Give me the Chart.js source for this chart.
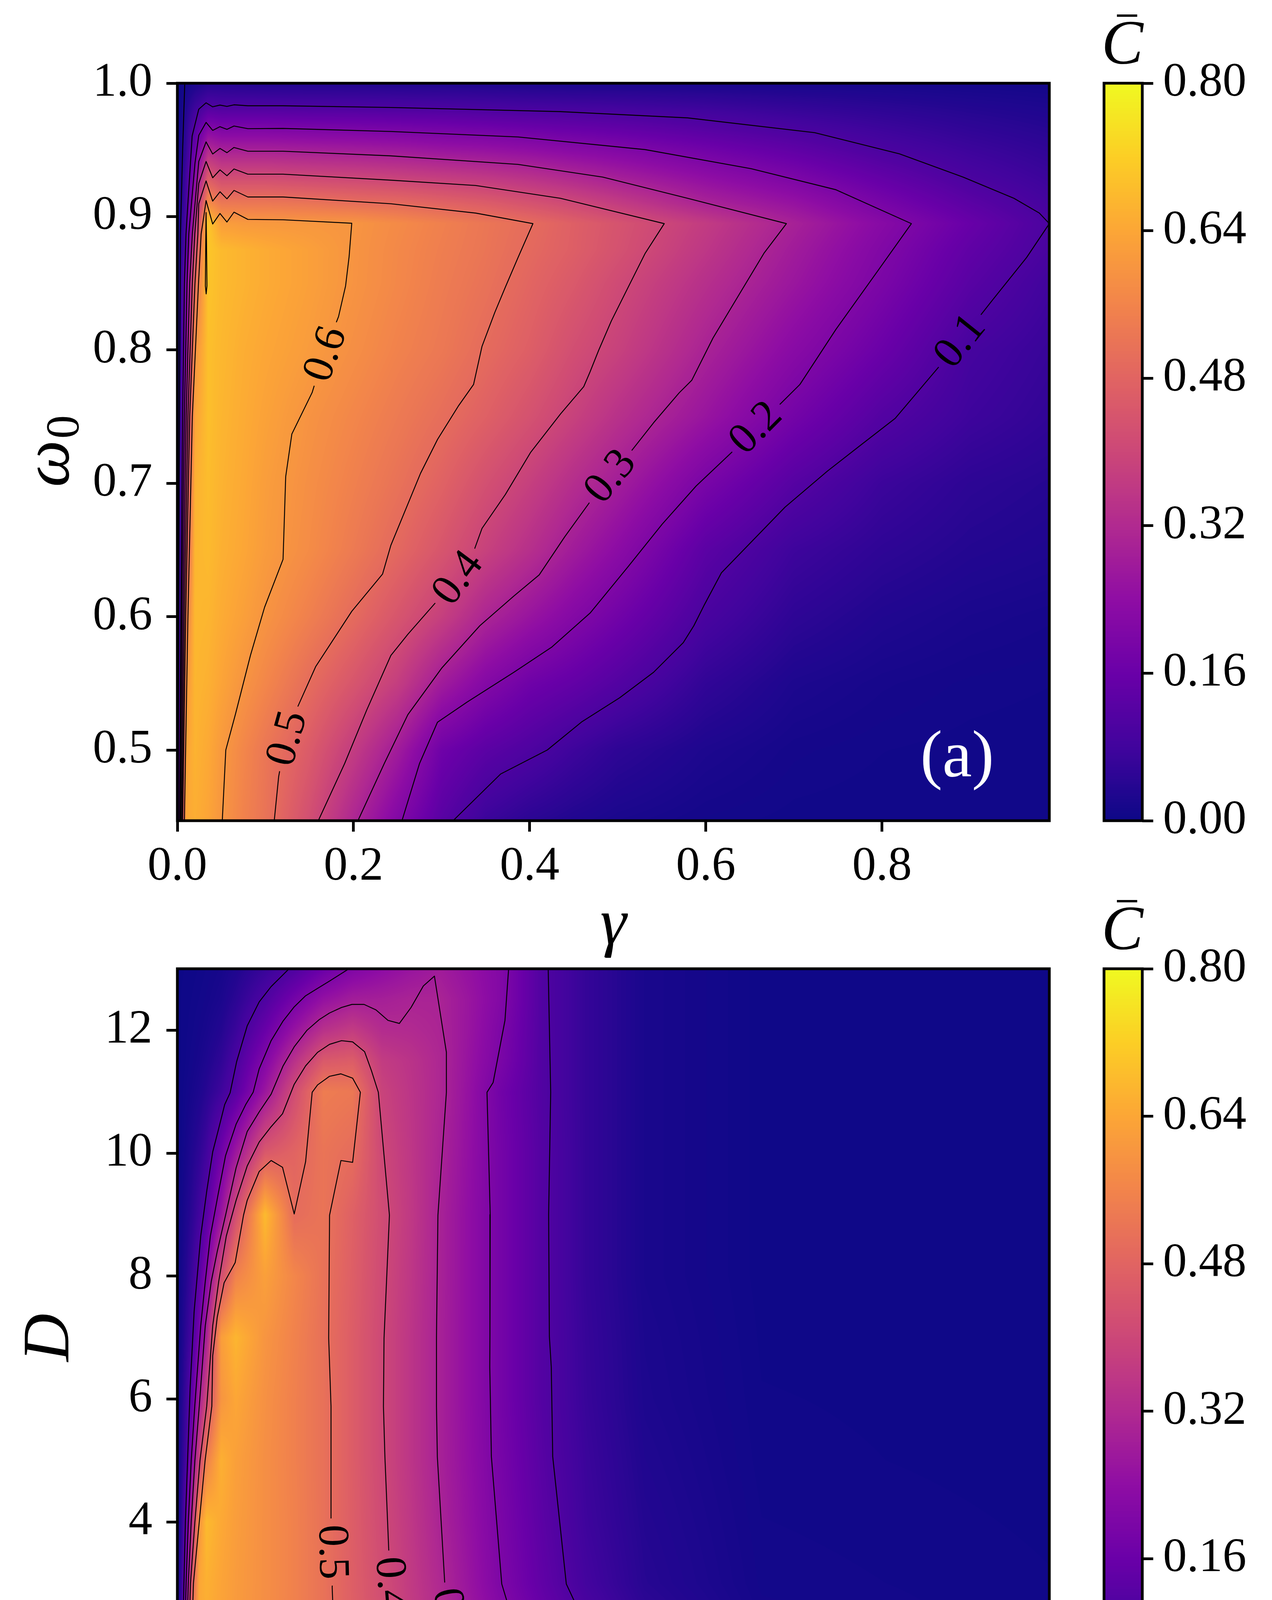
<!DOCTYPE html>
<html>
<head>
<meta charset="utf-8">
<title>Mean coherence maps</title>
<script src="https://cdn.jsdelivr.net/npm/chart.js@4.4.1/dist/chart.umd.min.js"></script>
<style>
  html, body { margin:0; padding:0; background:#ffffff; overflow:hidden; }
  #fig { position:relative; width:3256px; height:4781px; background:#ffffff; }
  #fig canvas { position:absolute; }
</style>
</head>
<body>
<div id="fig">
  <canvas id="panelA" width="2760" height="2470" style="left:0px;top:0px;width:2760px;height:2470px"></canvas>
  <canvas id="barA" width="556" height="2300" style="left:2700px;top:0px;width:556px;height:2300px"></canvas>
  <canvas id="panelB" width="2760" height="2481" style="left:0px;top:2300px;width:2760px;height:2481px"></canvas>
  <canvas id="barB" width="556" height="2481" style="left:2700px;top:2300px;width:556px;height:2481px"></canvas>
</div>
<script>
// ---------------- DATA ----------------
// Panel (a): grid columns gamma, rows omega0, values C-bar
const gammaA = [0, 0.004, 0.01, 0.02, 0.035, 0.05, 0.075, 0.1, 0.15, 0.2, 0.25, 0.3, 0.35, 0.4, 0.45, 0.5, 0.6, 0.7, 0.8, 0.9, 0.99];
const omegaA = [0.447, 0.5, 0.55, 0.6, 0.65, 0.7, 0.75, 0.8, 0.85, 0.875, 0.895, 0.91, 0.93, 0.95, 0.965, 0.983, 1.0];
const heatA = [
  [0, .30, .64, .655, .635, .602, .555, .518, .42, .31, .21, .125, .07, .045, .03, .02, .01, .006, .005, .005, .005],
  [0, .25, .63, .665, .645, .61, .565, .525, .455, .37, .28, .17, .13, .105, .075, .05, .025, .012, .008, .006, .005],
  [0, .15, .60, .67, .66, .635, .598, .565, .50, .44, .375, .28, .215, .17, .145, .115, .055, .025, .015, .01, .008],
  [0, .10, .54, .675, .67, .65, .625, .597, .548, .497, .44, .38, .307, .26, .215, .175, .095, .05, .03, .02, .015],
  [0, .08, .45, .67, .68, .66, .64, .615, .578, .535, .49, .44, .385, .335, .28, .232, .13, .075, .05, .035, .028],
  [0, .075, .38, .66, .685, .665, .645, .62, .585, .55, .515, .475, .425, .38, .33, .285, .19, .12, .072, .048, .038],
  [0, .07, .30, .63, .69, .67, .65, .63, .595, .565, .535, .505, .47, .43, .385, .34, .26, .18, .115, .075, .055],
  [0, .06, .22, .59, .69, .675, .655, .64, .615, .585, .555, .53, .498, .465, .42, .385, .30, .225, .16, .09, .065],
  [0, .05, .19, .50, .70, .68, .665, .65, .625, .597, .568, .54, .515, .483, .45, .41, .335, .265, .195, .125, .08],
  [0, .04, .12, .42, .705, .68, .665, .65, .625, .598, .57, .545, .522, .493, .465, .43, .355, .28, .208, .14, .095],
  [0, .035, .10, .33, .705, .62, .61, .608, .605, .60, .575, .55, .525, .50, .467, .435, .368, .295, .222, .155, .10],
  [0, .03, .09, .28, .58, .53, .528, .528, .519, .506, .496, .477, .458, .432, .405, .371, .301, .254, .188, .13, .087],
  [0, .025, .08, .22, .45, .41, .41, .41, .40, .394, .384, .371, .357, .338, .313, .287, .238, .195, .144, .097, .07],
  [0, .02, .06, .16, .32, .295, .294, .294, .288, .282, .274, .261, .253, .24, .224, .209, .174, .14, .10, .073, .053],
  [0, .015, .05, .12, .22, .205, .206, .206, .20, .198, .192, .185, .178, .168, .158, .148, .124, .099, .075, .054, .04],
  [0, .01, .03, .07, .105, .10, .10, .10, .098, .097, .095, .093, .089, .085, .082, .078, .069, .056, .044, .033, .025],
  [0, .005, .01, .02, .035, .035, .033, .03, .03, .03, .028, .027, .025, .022, .02, .02, .018, .016, .015, .012, .01]
];
// Panel (a) contour lines [gamma, omega0]
const contA01 = [[.0025,.447],[.004,.6],[.006,.75],[.008,.85],[.0098,.887],[.0168,.9605],[.0243,.9805],[.0326,.9853],[.0401,.9823],[.0484,.9836],[.0563,.9826],[.0643,.9838],[.08,.9831],[.12,.9831],[.2424,.9818],[.4349,.9787],[.5793,.974],[.7236,.9629],[.8199,.947],[.8921,.9296],[.9498,.9137],[.9787,.9026],[.99,.8947],[.9642,.8693],[.9257,.8376],[.9113,.8255],[.8872,.8074],[.868,.79],[.815,.7487],[.7717,.7265],[.738,.7091],[.6899,.6821],[.6177,.6329],[.5985,.6091],[.5864,.5932],[.5744,.5805],[.5407,.5583],[.5022,.5392],[.4589,.521],[.42,.5],[.367,.482],[.313,.447]];
const contA01b = [[.0012,.447],[.002,.7],[.0035,.887],[.006,.95],[.0084,1.0]];
const contA02 = [[.003,.447],[.005,.6],[.008,.75],[.011,.85],[.013,.887],[.02,.94],[.0243,.9609],[.0326,.9706],[.0401,.9646],[.0484,.9674],[.0563,.9654],[.0643,.9679],[.08,.9659],[.12,.9661],[.2424,.9638],[.3868,.9597],[.5312,.9502],[.6515,.9359],[.7478,.9201],[.8334,.8947],[.7958,.8598],[.7477,.8154],[.7068,.7741],[.6803,.7567],[.6553,.7424],[.6346,.7265],[.5889,.6979],[.5504,.6693],[.5119,.6376],[.4686,.6027],[.4253,.5773],[.3819,.5582],[.329,.536],[.2953,.5208],[.275,.49],[.255,.447]];
const contA03 = [[.004,.447],[.0065,.6],[.01,.75],[.014,.85],[.017,.887],[.0243,.9413],[.0326,.956],[.0401,.9469],[.0484,.9511],[.0563,.9479],[.0643,.9518],[.08,.949],[.12,.949],[.2424,.9455],[.3868,.9391],[.483,.9296],[.5793,.9137],[.6915,.8947],[.666,.8725],[.6371,.8408],[.6082,.809],[.5841,.7773],[.5697,.7678],[.5408,.7455],[.5143,.7233],[.4902,.7059],[.471,.6884],[.4397,.6598],[.4108,.6313],[.3819,.6154],[.3434,.5932],[.3001,.5614],[.2617,.5265],[.235,.49],[.205,.447]];
const contA04 = [[.005,.447],[.008,.6],[.012,.75],[.017,.85],[.0198,.887],[.0243,.9248],[.0326,.9413],[.0401,.9291],[.0484,.935],[.0563,.9306],[.0643,.9357],[.08,.9318],[.12,.9318],[.2424,.9273],[.3387,.9233],[.4349,.9137],[.5528,.8947],[.5312,.8725],[.5119,.8471],[.4927,.8217],[.4782,.7995],[.4686,.7836],[.4614,.7725],[.4349,.7519],[.4012,.7233],[.3724,.6916],[.3459,.6662],[.3363,.6487],[.317,.6297],[.2954,.6122],[.2617,.5868],[.2424,.5709],[.215,.53],[.19,.49],[.16,.447]];
const contA05 = [[.006,.447],[.0095,.6],[.014,.75],[.02,.85],[.0233,.887],[.0243,.9096],[.0326,.9267],[.0401,.9116],[.0484,.9186],[.0563,.9133],[.0643,.9196],[.08,.9147],[.12,.9147],[.2424,.9096],[.3387,.9026],[.4037,.8947],[.3868,.8693],[.3724,.8471],[.3604,.8281],[.3459,.8027],[.3363,.7741],[.3194,.7583],[.2954,.7329],[.2761,.7075],[.2424,.6535],[.233,.632],[.198,.604],[.157,.5625],[.135,.53],[.123,.509],[.115,.48],[.11,.447]];
const contA06 = [[.008,.447],[.012,.6],[.017,.75],[.024,.85],[.027,.887],[.03,.9],[.0326,.912],[.0401,.8944],[.0484,.9023],[.0563,.8959],[.0643,.9033],[.08,.8979],[.12,.8976],[.198,.895],[.195,.87],[.191,.848],[.183,.825],[.1665,.7973],[.153,.768],[.13,.737],[.123,.705],[.12,.643],[.099,.607],[.083,.571],[.066,.527],[.055,.5],[.051,.447]];
const contA07 = [[.0318,.848],[.0322,.88],[.0326,.903],[.0331,.88],[.0336,.848],[.0327,.842],[.0318,.848]];
const labelTextA = ['0.6', '0.5', '0.4', '0.3', '0.2', '0.1'];
const labelPosA = [[.1665,.7973],[.123,.509],[.317,.6297],[.4902,.7059],[.6553,.7424],[.8872,.8074]];
const xTicksA = [0, 0.2, 0.4, 0.6, 0.8];
const yTicksA = [0.5, 0.6, 0.7, 0.8, 0.9, 1.0];

// Panel (b): grid columns gamma, rows D
const gammaB = [0, 0.003, 0.006, 0.01, 0.015, 0.02, 0.03, 0.04, 0.06, 0.08, 0.1, 0.12, 0.14, 0.16, 0.18, 0.2, 0.22, 0.25, 0.28, 0.32, 0.4, 0.597];
const dB = [1, 2, 3, 4, 5, 6, 7, 8, 9, 10, 11, 11.5, 12, 12.5, 13];
const heatB = [
  [0, .12, .38, .60, .64, .64, .63, .615, .585, .555, .52, .475, .43, .385, .345, .30, .26, .20, .15, .085, .02, .005],
  [0, .09, .30, .57, .65, .65, .63, .612, .582, .552, .515, .47, .425, .375, .33, .28, .235, .17, .115, .06, .015, .005],
  [0, .07, .20, .45, .64, .66, .635, .615, .585, .553, .515, .465, .418, .365, .315, .26, .205, .14, .085, .04, .01, .005],
  [0, .05, .14, .33, .60, .68, .645, .62, .585, .553, .513, .462, .41, .357, .302, .25, .197, .13, .075, .035, .008, .004],
  [0, .04, .09, .22, .39, .55, .66, .625, .585, .55, .512, .46, .405, .35, .295, .243, .19, .122, .07, .03, .006, .003],
  [0, .03, .07, .14, .29, .40, .60, .64, .59, .55, .512, .46, .405, .35, .295, .24, .185, .115, .065, .025, .005, .003],
  [0, .02, .05, .09, .19, .30, .62, .67, .60, .555, .51, .46, .405, .35, .295, .24, .185, .115, .063, .023, .004, .002],
  [0, .015, .035, .07, .125, .21, .42, .555, .625, .565, .515, .465, .41, .355, .297, .24, .185, .115, .06, .02, .003, .002],
  [0, .01, .025, .045, .08, .125, .26, .42, .68, .50, .52, .47, .415, .36, .298, .24, .185, .115, .06, .02, .003, .002],
  [0, .005, .015, .03, .05, .08, .17, .27, .45, .48, .52, .50, .405, .355, .303, .245, .185, .115, .06, .02, .003, .002],
  [0, .003, .008, .015, .025, .04, .075, .125, .265, .415, .54, .53, .39, .35, .31, .25, .18, .11, .06, .02, .003, .002],
  [0, .002, .005, .01, .017, .027, .052, .097, .21, .34, .45, .46, .37, .345, .31, .255, .198, .11, .06, .02, .003, .002],
  [0, .002, .004, .007, .012, .018, .035, .068, .155, .255, .34, .37, .325, .32, .305, .26, .205, .11, .06, .02, .003, .002],
  [0, .002, .003, .005, .008, .012, .022, .045, .105, .18, .25, .285, .29, .302, .302, .262, .215, .11, .06, .02, .003, .002],
  [0, .001, .002, .003, .005, .008, .015, .028, .065, .105, .16, .205, .235, .26, .28, .25, .215, .11, .06, .02, .003, .002]
];
// Panel (b) contour lines [gamma, D]
const contB01L = [[.0028,1],[.0045,3],[.0055,4],[.007,5],[.0088,6.21],[.0115,7.43],[.016,8.65],[.0201,9.38],[.0242,10.02],[.0283,10.4],[.0324,10.79],[.0361,10.98],[.0406,11.49],[.0478,12.07],[.056,12.46],[.0642,12.71],[.0765,13]];
const contB01R = [[.2539,13],[.2556,10.99],[.2542,9],[.2547,7.02],[.256,6.52],[.257,5.06],[.2663,2.99],[.2826,2.16],[.2922,1.75],[.3032,1.29],[.309,1]];
const contB02L = [[.004,1],[.006,3],[.0075,4],[.0095,5],[.0119,5.88],[.016,7.19],[.0191,7.91],[.0226,8.65],[.0279,9.33],[.033,9.96],[.0402,10.47],[.0468,10.79],[.0519,10.99],[.056,11.37],[.0642,11.83],[.0724,12.15],[.08,12.38],[.0878,12.56],[.096,12.68],[.1042,12.8],[.1175,13]];
const contB02R = [[.2268,13],[.2243,12.16],[.2162,11.15],[.212,10.99],[.2142,9],[.214,7.02],[.2139,6.52],[.215,5.06],[.2221,2.99],[.2292,2.43],[.2365,1.94],[.2426,1.44],[.2499,1]];
const contB03 = [[.0052,1],[.0075,3],[.0095,4],[.012,5],[.015,5.88],[.0191,7.19],[.0232,7.91],[.0273,8.4],[.033,8.99],[.0402,9.76],[.0478,10.35],[.056,10.67],[.0642,10.96],[.0724,11.42],[.08,11.73],[.0888,12],[.097,12.17],[.1042,12.28],[.1124,12.37],[.1196,12.42],[.1278,12.42],[.136,12.33],[.1442,12.16],[.152,12.11],[.16,12.37],[.1684,12.72],[.176,12.88],[.1842,11.64],[.1842,10.99],[.1784,8.99],[.1774,6.99],[.1774,5.88],[.178,5.06],[.1831,2.99],[.1882,2.48],[.1914,1.94],[.1996,1]];
const contB04 = [[.0065,1],[.009,3],[.012,4],[.0155,5],[.0201,5.88],[.0242,7.19],[.0283,7.91],[.0335,8.65],[.0402,9.23],[.0478,9.79],[.056,10.18],[.0642,10.43],[.072,10.64],[.08,11.12],[.0878,11.42],[.096,11.64],[.1042,11.77],[.1124,11.83],[.12,11.81],[.1282,11.65],[.1329,11.34],[.1376,10.99],[.1452,8.99],[.1415,6.99],[.1411,5.88],[.1421,5.06],[.1448,3.5],[.1472,2.99],[.1483,2.43],[.1544,1]];
const contB05 = [[.0085,1],[.011,3],[.015,4],[.019,5],[.0236,5.88],[.0242,6.7],[.0273,7.33],[.032,7.89],[.0396,8.22],[.0453,8.99],[.0478,9.23],[.056,9.7],[.0642,9.88],[.072,9.77],[.08,9.01],[.0878,9.86],[.0923,10.99],[.096,11.11],[.1042,11.25],[.112,11.29],[.12,11.22],[.1253,10.99],[.12,9.85],[.112,9.88],[.1042,8.99],[.1036,6.99],[.1052,5.88],[.1052,4.01],[.1072,3.51],[.106,2.94],[.1089,1]];
const labelTextB = ['0.5', '0.4', '0.3', '0.2', '0.1'];
const labelPosB = [[.1072,3.51],[.1472,2.99],[.1882,2.48],[.2365,1.94],[.2922,1.75]];
const xTicksB = [0, 0.2, 0.4];
const yTicksB = [2, 4, 6, 8, 10, 12];

// Colour bar
const cbarTicks = [0, 0.16, 0.32, 0.48, 0.64, 0.80];
const cMin = 0, cMax = 0.8;

// ---------------- STYLE / RENDERING ----------------
const FONT = '"Liberation Serif", "DejaVu Serif", serif';
const PLASMA = ['#0d0887','#41049d','#6a00a8','#8f0da4','#b12a90','#cc4778','#e16462','#f2844b','#fca636','#fcce25','#f0f921'];
const LUT = (function () {
  const stops = PLASMA.map(h => [parseInt(h.slice(1,3),16), parseInt(h.slice(3,5),16), parseInt(h.slice(5,7),16)]);
  const out = [];
  for (let i = 0; i < 256; i++) {
    const t = i / 255 * (stops.length - 1);
    const k = Math.min(stops.length - 2, Math.floor(t));
    const f = t - k;
    out.push([0,1,2].map(c => Math.round(stops[k][c] * (1 - f) + stops[k+1][c] * f)));
  }
  return out;
})();
function colorIndex(v) {
  let t = (v - cMin) / (cMax - cMin);
  if (!(t >= 0)) t = 0; if (t > 1) t = 1;
  return Math.round(t * 255);
}
function locate(arr, v) {
  const n = arr.length;
  if (v <= arr[0]) return [0, 0];
  if (v >= arr[n-1]) return [n-2, 1];
  let k = 0;
  while (k < n - 2 && arr[k+1] <= v) k++;
  return [k, (v - arr[k]) / (arr[k+1] - arr[k])];
}

function heatPlugin(xs, ys, Z) {
  return {
    id: 'heat',
    beforeDatasetsDraw(chart) {
      const a = chart.chartArea;
      const L = Math.round(a.left), T = Math.round(a.top);
      const W = Math.round(a.right) - L, H = Math.round(a.bottom) - T;
      if (!chart.$heat) {
        const sx = chart.scales.x, sy = chart.scales.y;
        const off = document.createElement('canvas');
        off.width = W; off.height = H;
        const octx = off.getContext('2d');
        const img = octx.createImageData(W, H);
        const ci = new Int32Array(W), cf = new Float64Array(W);
        for (let i = 0; i < W; i++) { const r = locate(xs, sx.getValueForPixel(L + i + 0.5)); ci[i] = r[0]; cf[i] = r[1]; }
        const d = img.data;
        for (let j = 0; j < H; j++) {
          const r = locate(ys, sy.getValueForPixel(T + j + 0.5));
          const r0 = Z[r[0]], r1 = Z[r[0] + 1], fy = r[1];
          for (let i = 0; i < W; i++) {
            const k = ci[i], fx = cf[i];
            const v0 = (r0[k] || 0) * (1 - fx) + (r0[k+1] || 0) * fx;
            const v1 = (r1[k] || 0) * (1 - fx) + (r1[k+1] || 0) * fx;
            const c = LUT[colorIndex(v0 * (1 - fy) + v1 * fy)];
            const p = (j * W + i) * 4;
            d[p] = c[0]; d[p+1] = c[1]; d[p+2] = c[2]; d[p+3] = 255;
          }
        }
        octx.putImageData(img, 0, 0);
        chart.$heat = off; chart.$heatL = L; chart.$heatT = T;
      }
      chart.ctx.drawImage(chart.$heat, chart.$heatL, chart.$heatT);
    }
  };
}

function labelPlugin(texts, positions, paths) {
  return {
    id: 'clabels',
    afterDatasetsDraw(chart) {
      const ctx = chart.ctx, sx = chart.scales.x, sy = chart.scales.y;
      texts.forEach((txt, n) => {
        const pts = paths[n].map(p => [sx.getPixelForValue(p[0]), sy.getPixelForValue(p[1])]);
        const px = sx.getPixelForValue(positions[n][0]), py = sy.getPixelForValue(positions[n][1]);
        const cum = [0];
        for (let i = 1; i < pts.length; i++) cum.push(cum[i-1] + Math.hypot(pts[i][0]-pts[i-1][0], pts[i][1]-pts[i-1][1]));
        let best = Infinity, bs = 0, bp = [px, py];
        for (let i = 0; i < pts.length - 1; i++) {
          const a = pts[i], b = pts[i+1], dx = b[0]-a[0], dy = b[1]-a[1], L2 = dx*dx + dy*dy;
          let t = L2 ? ((px-a[0])*dx + (py-a[1])*dy) / L2 : 0;
          t = Math.max(0, Math.min(1, t));
          const qx = a[0] + t*dx, qy = a[1] + t*dy, dd = (qx-px)*(qx-px) + (qy-py)*(qy-py);
          if (dd < best) { best = dd; bs = cum[i] + t*Math.sqrt(L2); bp = [qx, qy]; }
        }
        const at = s => {
          s = Math.max(0, Math.min(cum[cum.length-1], s));
          let i = 0; while (i < cum.length - 2 && cum[i+1] < s) i++;
          const seg = cum[i+1] - cum[i], f = seg ? (s - cum[i]) / seg : 0;
          return [pts[i][0] + f*(pts[i+1][0]-pts[i][0]), pts[i][1] + f*(pts[i+1][1]-pts[i][1])];
        };
        const p1 = at(bs - 70), p2 = at(bs + 70);
        let ang = Math.atan2(p2[1]-p1[1], p2[0]-p1[0]);
        if (ang > Math.PI/2) ang -= Math.PI;
        if (ang < -Math.PI/2) ang += Math.PI;
        ctx.save();
        ctx.font = '112px ' + FONT;
        const w = ctx.measureText(txt).width;
        const hw = w/2 + 16, hh = 46, c = Math.cos(ang), s = Math.sin(ang);
        ctx.beginPath();
        [[-hw,-hh],[hw,-hh],[hw,hh],[-hw,hh]].forEach((q, i) => {
          const X = bp[0] + q[0]*c - q[1]*s, Y = bp[1] + q[0]*s + q[1]*c;
          if (i === 0) ctx.moveTo(X, Y); else ctx.lineTo(X, Y);
        });
        ctx.closePath();
        ctx.clip();
        if (chart.$heat) ctx.drawImage(chart.$heat, chart.$heatL, chart.$heatT);
        ctx.restore();
        ctx.save();
        ctx.translate(bp[0], bp[1]);
        ctx.rotate(ang);
        ctx.font = '112px ' + FONT;
        ctx.fillStyle = '#000';
        ctx.textAlign = 'center';
        ctx.textBaseline = 'alphabetic';
        ctx.fillText(txt, 0, 36);
        ctx.restore();
      });
    }
  };
}

function framePlugin(opts) {
  return {
    id: 'frame',
    afterDraw(chart) {
      const ctx = chart.ctx, a = chart.chartArea;
      ctx.save();
      ctx.strokeStyle = '#000'; ctx.lineWidth = 7;
      ctx.strokeRect(a.left, a.top, a.right - a.left, a.bottom - a.top);
      ctx.fillStyle = '#000';
      // x title
      ctx.font = 'italic 170px ' + FONT;
      ctx.textAlign = 'center'; ctx.textBaseline = 'alphabetic';
      ctx.fillText('\u03B3', (a.left + a.right) / 2, a.bottom + 315);
      // y title (rotated)
      ctx.save();
      ctx.translate(175, (a.top + a.bottom) / 2);
      ctx.rotate(-Math.PI / 2);
      ctx.textAlign = 'left';
      if (opts.sub) {
        ctx.font = 'italic 170px ' + FONT;
        const w1 = ctx.measureText(opts.ytitle).width;
        ctx.font = '120px ' + FONT;
        const w2 = ctx.measureText(opts.sub).width;
        ctx.font = 'italic 170px ' + FONT;
        ctx.fillText(opts.ytitle, -(w1 + w2) / 2, 0);
        ctx.font = '120px ' + FONT;
        ctx.fillText(opts.sub, -(w1 + w2) / 2 + w1 + 4, 26);
      } else {
        ctx.font = 'italic 170px ' + FONT;
        ctx.textAlign = 'center';
        ctx.fillText(opts.ytitle, 0, 0);
      }
      ctx.restore();
      // panel letter
      ctx.fillStyle = '#ffffff';
      ctx.font = '170px ' + FONT;
      ctx.textAlign = 'center';
      ctx.fillText(opts.letter, a.right - 236, a.bottom - 114);
      ctx.restore();
    }
  };
}

function tickScale(ticks, fmt, extra) {
  return Object.assign({
    type: 'linear',
    afterBuildTicks: s => { s.ticks = ticks.map(v => ({ value: v })); },
    grid: { drawOnChartArea: false, drawTicks: true, tickLength: 28, tickWidth: 7, tickColor: '#000', color: '#000' },
    border: { display: false },
    ticks: { font: { family: FONT, size: 122 }, color: '#000', autoSkip: false, maxRotation: 0, minRotation: 0,
             callback: v => fmt(v) }
  }, extra);
}

function mainChart(id, g) {
  const canvas = document.getElementById(id);
  const datasets = g.contours.map(c => ({
    data: c.map(p => ({ x: p[0], y: p[1] })),
    showLine: true, borderColor: '#000', borderWidth: 2.4, borderJoinStyle: 'round',
    pointRadius: 0, pointHoverRadius: 0, fill: false, tension: 0
  }));
  const xs = tickScale(g.xticks, v => v.toFixed(1), { min: g.xmin, max: g.xmax, position: 'bottom',
    afterFit: s => { s.height = g.h - g.B; } });
  xs.ticks.padding = 18;
  const ys = tickScale(g.yticks, g.yfmt, { min: g.ymin, max: g.ymax, position: 'left',
    afterFit: s => { s.width = g.L; } });
  ys.ticks.padding = 36;
  return new Chart(canvas, {
    type: 'scatter',
    data: { datasets },
    options: {
      responsive: false, animation: false, devicePixelRatio: 1, events: [],
      layout: { padding: { left: 0, top: g.T, right: g.w - g.R, bottom: 0 } },
      plugins: { legend: { display: false }, tooltip: { enabled: false }, title: { display: false } },
      scales: { x: xs, y: ys }
    },
    plugins: [heatPlugin(g.gx, g.gy, g.z), labelPlugin(g.ltext, g.lpos, g.lpath), framePlugin(g)]
  });
}

function colorBar(id, g) {
  const canvas = document.getElementById(id);
  const ys = tickScale(cbarTicks, v => v.toFixed(2), { min: cMin, max: cMax, position: 'right',
    afterFit: s => { s.width = g.w - g.R; } });
  ys.ticks.padding = 25;
  return new Chart(canvas, {
    type: 'scatter',
    data: { datasets: [] },
    options: {
      responsive: false, animation: false, devicePixelRatio: 1, events: [],
      layout: { padding: { left: g.L, top: g.T, right: 0, bottom: g.h - g.B } },
      plugins: { legend: { display: false }, tooltip: { enabled: false } },
      scales: { x: { type: 'linear', display: false, min: 0, max: 1 }, y: ys }
    },
    plugins: [{
      id: 'cbar',
      beforeDatasetsDraw(chart) {
        const ctx = chart.ctx, a = chart.chartArea, sy = chart.scales.y;
        for (let py = Math.floor(a.top); py < Math.ceil(a.bottom); py++) {
          const c = LUT[colorIndex(sy.getValueForPixel(py + 0.5))];
          ctx.fillStyle = 'rgb(' + c[0] + ',' + c[1] + ',' + c[2] + ')';
          ctx.fillRect(a.left, py, a.right - a.left, 1);
        }
      },
      afterDraw(chart) {
        const ctx = chart.ctx, a = chart.chartArea;
        ctx.save();
        ctx.strokeStyle = '#000'; ctx.lineWidth = 7;
        ctx.strokeRect(a.left, a.top, a.right - a.left, a.bottom - a.top);
        ctx.fillStyle = '#000';
        ctx.font = 'italic 160px ' + FONT;
        ctx.textAlign = 'center'; ctx.textBaseline = 'alphabetic';
        const cx = (a.left + a.right) / 2;
        ctx.fillText('C', cx - 2, a.top - 50);
        ctx.fillRect(cx - 16, a.top - 176, 52, 6);
        ctx.restore();
      }
    }]
  });
}

mainChart('panelA', {
  w: 2760, h: 2470, L: 454, T: 213, R: 2686, B: 2101,
  xmin: 0, xmax: 0.99, ymin: 0.447, ymax: 1.0,
  xticks: xTicksA, yticks: yTicksA, yfmt: v => v.toFixed(1),
  gx: gammaA, gy: omegaA, z: heatA,
  contours: [contA01, contA01b, contA02, contA03, contA04, contA05, contA06, contA07],
  ltext: labelTextA, lpos: labelPosA, lpath: [contA06, contA05, contA04, contA03, contA02, contA01],
  ytitle: '\u03C9', sub: '0', letter: '(a)'
});
colorBar('barA', { w: 556, h: 2300, L: 126, R: 224, T: 213, B: 2101 });

mainChart('panelB', {
  w: 2760, h: 2481, L: 454, T: 180, R: 2686, B: 2068,
  xmin: 0, xmax: 0.597, ymin: 1, ymax: 13,
  xticks: xTicksB, yticks: yTicksB, yfmt: v => String(Math.round(v)),
  gx: gammaB, gy: dB, z: heatB,
  contours: [contB01L, contB01R, contB02L, contB02R, contB03, contB04, contB05],
  ltext: labelTextB, lpos: labelPosB, lpath: [contB05, contB04, contB03, contB02R, contB01R],
  ytitle: 'D', sub: null, letter: '(b)'
});
colorBar('barB', { w: 556, h: 2481, L: 126, R: 224, T: 180, B: 2068 });
</script>
</body>
</html>
